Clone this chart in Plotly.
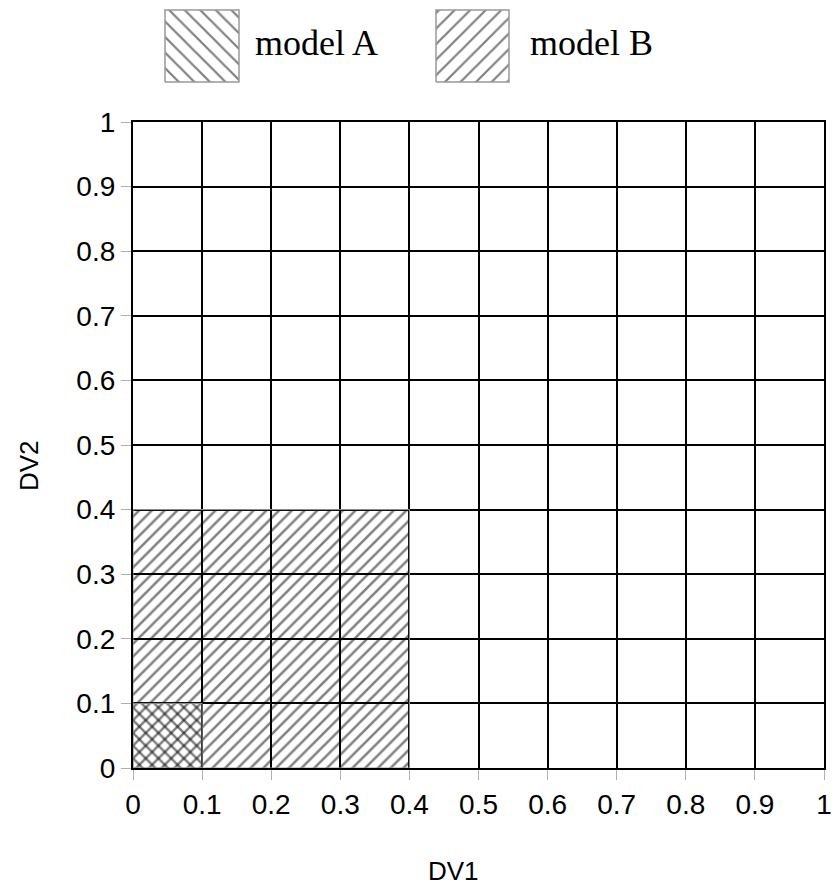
import plotly.graph_objects as go

# Data
series_names = ["model A", "model B"]
model_a_x = [0.0, 0.1]   # DV1 range of model A
model_a_y = [0.0, 0.1]   # DV2 range of model A
model_b_x = [0.0, 0.4]   # DV1 range of model B
model_b_y = [0.0, 0.4]   # DV2 range of model B
tick_vals = [0, 0.1, 0.2, 0.3, 0.4, 0.5, 0.6, 0.7, 0.8, 0.9, 1]
tick_text = ["0", "0.1", "0.2", "0.3", "0.4", "0.5", "0.6", "0.7", "0.8", "0.9", "1"]
shapes_ = ["\\", "/"]

W, H = 835, 888
ML, MR, MT, MB = 133, 11, 5, 120
plot_h = H - MT - MB
main_top = (H - MB - 122) / plot_h
SANS = "Liberation Sans, Arial, sans-serif"


def rect(xr, yr):
    return ([xr[0], xr[1], xr[1], xr[0], xr[0]],
            [yr[0], yr[0], yr[1], yr[1], yr[0]])


fig = go.Figure()

# model B first (underneath), then model A on top so overlap cross-hatches
for name, xr, yr, shp in [(series_names[1], model_b_x, model_b_y, shapes_[1]),
                          (series_names[0], model_a_x, model_a_y, shapes_[0])]:
    xs, ys = rect(xr, yr)
    fig.add_trace(go.Scatter(
        x=xs, y=ys, mode="lines", fill="toself", name=name,
        line=dict(color="#999999", width=1),
        fillcolor="rgba(0,0,0,0)",
        fillpattern=dict(shape=shp, size=9, solidity=0.28,
                         fgcolor="#000000", bgcolor="rgba(0,0,0,0)"),
        showlegend=False, hoverinfo="skip",
        xaxis="x", yaxis="y"))

# Custom legend swatches (overlay axes in pixel-like units)
legend_boxes = [(165, 239), (436, 509)]
legend_text_x = [253, 528]
for name, (x0, x1), shp, tx in zip(series_names, legend_boxes, shapes_, legend_text_x):
    xs, ys = rect([x0, x1], [-82, -10])
    fig.add_trace(go.Scatter(
        x=xs, y=ys, mode="lines", fill="toself",
        line=dict(color="#999999", width=1.5),
        fillcolor="rgba(0,0,0,0)",
        fillpattern=dict(shape=shp, size=11, solidity=0.2,
                         fgcolor="#000000", bgcolor="white"),
        showlegend=False, hoverinfo="skip",
        xaxis="x2", yaxis="y2"))
    fig.add_annotation(x=tx, y=-43, xref="x2", yref="y2", text=name,
                       showarrow=False, xanchor="left", yanchor="middle",
                       font=dict(family="Liberation Serif, Times New Roman, serif",
                                 size=36, color="black"))

axis_common = dict(
    tickvals=tick_vals, ticktext=tick_text, range=[0, 1],
    showgrid=True, gridcolor="black", gridwidth=2.2,
    zeroline=False, showline=True, linecolor="black", linewidth=2.2, mirror=True,
    ticks="outside", ticklen=10, tickcolor="#b0b0b0", tickwidth=1,
    tickfont=dict(family=SANS, size=28, color="black"),
    ticklabeloverflow="allow",
)

fig.update_layout(
    width=W, height=H,
    margin=dict(l=ML, r=MR, t=MT, b=MB, autoexpand=False),
    paper_bgcolor="white", plot_bgcolor="white",
    showlegend=False,
    xaxis=dict(**axis_common, domain=[0, 1], automargin=False),
    yaxis=dict(**axis_common, domain=[0, main_top], automargin=False),
    xaxis2=dict(range=[ML, W - MR], domain=[0, 1], visible=False,
                anchor="y2", fixedrange=True),
    yaxis2=dict(range=[-95, -5], domain=[(H - MB - 95) / plot_h, 1], visible=False,
                anchor="x2", fixedrange=True),
)

# Axis titles
fig.add_annotation(x=(453 - ML) / (W - MR - ML), y=-(871 - (H - MB)) / plot_h,
                   xref="paper", yref="paper", text="DV1", showarrow=False,
                   xanchor="center", yanchor="middle",
                   font=dict(family=SANS, size=26, color="black"))
fig.add_annotation(x=-(ML - 29) / (W - MR - ML), y=(H - MB - 466) / plot_h,
                   xref="paper", yref="paper", text="DV2", showarrow=False,
                   textangle=-90, xanchor="center", yanchor="middle",
                   font=dict(family=SANS, size=26, color="black"))

fig.write_html("out.html")
